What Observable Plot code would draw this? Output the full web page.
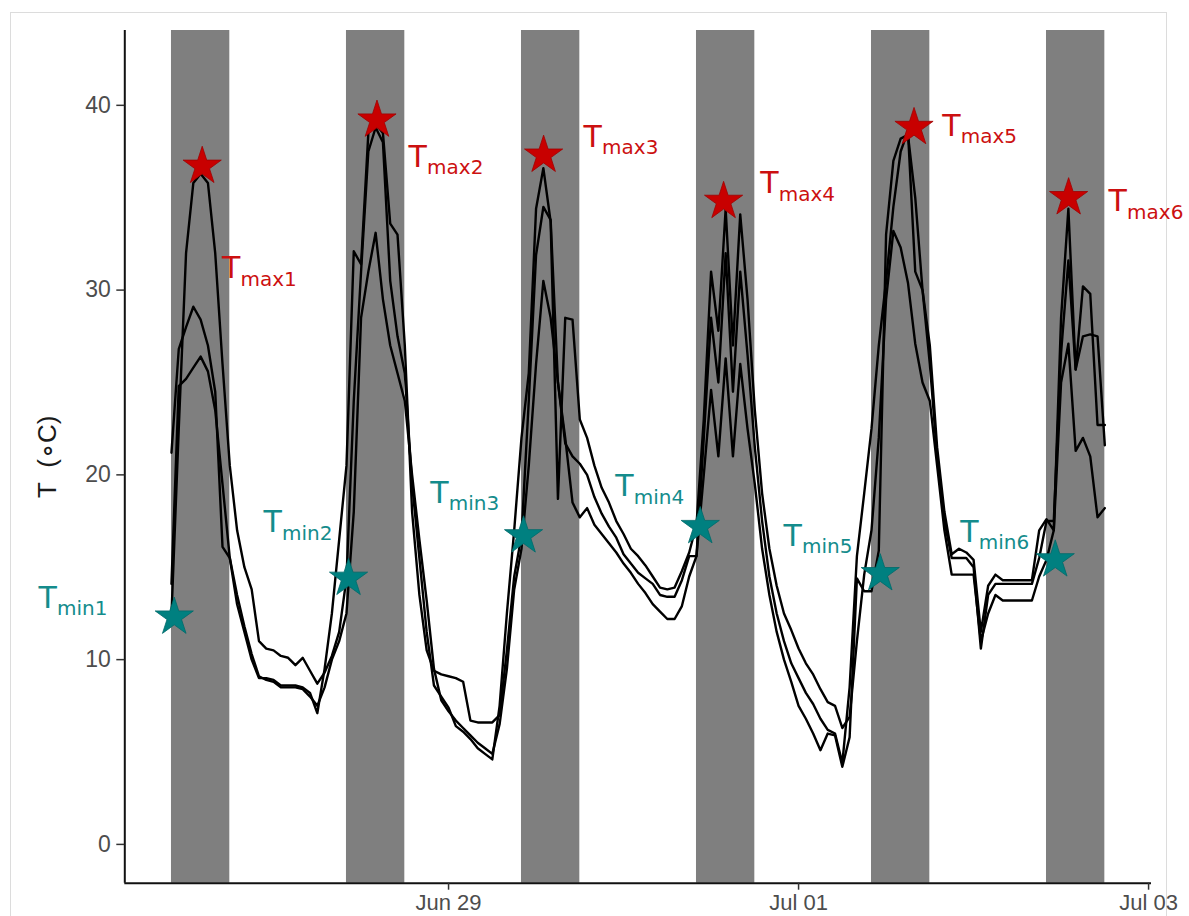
<!DOCTYPE html>
<html>
<head>
<meta charset="utf-8">
<script src="https://cdn.jsdelivr.net/npm/d3@7"></script>
<script src="https://cdn.jsdelivr.net/npm/@observablehq/plot@0.6"></script>
<style>
html, body { margin: 0; padding: 0; background: #ffffff; }
#wrap { position: relative; width: 1189px; height: 916px; overflow: hidden; }
#frame { position: absolute; left: 10px; top: 12px; width: 1157px; height: 980px; border: 1.5px solid #dcdcdc; box-sizing: border-box; }
#chart { position: absolute; left: 0; top: 0; }
</style>
</head>
<body>
<div id="wrap"><div id="frame"></div><div id="chart"></div></div>
<script>
// ---------- data ----------
const seriesStart = "2019-06-27T10:00:00Z"; // hourly readings from here
const sensorA = [
  12.4, 22.5, 32.0, 35.8, 36.3, 35.8, 32.0, 26.0, 20.5, 17.0, 15.0, 13.8, 11.0, 10.6, 10.5, 10.2, 10.1, 9.7, 10.1, 9.4, 8.7, 9.3, 10.2, 11.5,
  14.4, 24.0, 31.0, 37.5, 38.8, 38.0, 30.5, 27.5, 25.5, 19.5, 15.5, 11.5, 8.6, 8.0, 7.4, 6.4, 6.1, 5.7, 5.2, 4.9, 4.6, 7.5, 12.5, 17.0,
  22.0, 25.5, 34.4, 36.6, 33.7, 18.7, 28.5, 28.4, 23.0, 22.0, 20.5, 19.3, 18.5, 17.5, 16.8, 16.0, 15.6, 15.1, 14.5, 13.9, 13.8, 13.9, 14.8, 15.8,
  17.3, 23.0, 31.0, 27.8, 34.4, 27.0, 34.1, 29.5, 23.5, 19.0, 16.0, 14.0, 12.5, 11.6, 10.6, 9.8, 9.2, 8.4, 7.7, 7.5, 6.3, 6.9, 11.0, 14.6,
  17.0, 22.0, 29.5, 33.2, 32.3, 30.4, 27.1, 25.0, 24.0, 20.5, 17.0, 14.6, 14.6, 14.6, 14.6, 11.0, 12.5, 13.5, 13.2, 13.2, 13.2, 13.2, 13.2, 14.5,
  15.4, 17.0, 25.0, 27.1, 21.3, 22.0, 21.0, 17.7, 18.2
];
const sensorB = [
  21.2, 26.8, 28.0, 29.1, 28.4, 27.0, 24.5, 16.1, 15.5, 13.0, 11.5, 10.0, 9.0, 9.0, 8.9, 8.6, 8.6, 8.6, 8.5, 8.2, 7.1, 9.5, 12.5, 16.5,
  20.5, 32.1, 31.4, 38.5, 39.0, 38.5, 33.6, 33.0, 27.0, 18.0, 13.5, 10.5, 9.4, 9.2, 9.1, 9.0, 8.8, 6.7, 6.6, 6.6, 6.6, 7.0, 10.5, 14.5,
  16.7, 24.0, 31.9, 34.5, 33.8, 25.0, 21.7, 21.0, 20.6, 20.0, 18.8, 17.9, 17.2, 16.6, 15.7, 15.2, 14.7, 14.4, 14.1, 13.5, 13.4, 13.4, 14.3, 15.6,
  15.6, 22.0, 28.5, 25.0, 32.0, 24.5, 31.0, 26.5, 21.5, 17.5, 14.5, 12.5, 11.0, 9.8, 9.0, 8.2, 7.6, 6.8, 6.2, 6.0, 4.4, 8.5, 15.6, 19.0,
  22.5, 27.0, 30.5, 34.5, 37.5, 38.6, 31.0, 30.0, 27.0, 21.5, 18.0, 15.7, 16.0, 15.8, 15.4, 11.5, 14.0, 14.6, 14.3, 14.3, 14.3, 14.3, 14.3, 17.0,
  17.6, 17.0, 28.5, 34.4, 25.7, 30.2, 29.8, 22.7, 22.7
];
const sensorC = [
  14.1, 24.8, 25.2, 25.8, 26.4, 25.6, 23.5, 19.5, 15.5, 13.5, 11.8, 10.3, 9.1, 8.9, 8.8, 8.5, 8.5, 8.5, 8.4, 8.0, 7.5, 8.5, 10.0, 11.0,
  12.5, 18.0, 28.5, 31.0, 33.1, 29.5, 27.0, 25.5, 24.0, 20.0, 16.5, 13.2, 9.5, 7.8, 7.2, 6.7, 6.3, 5.9, 5.5, 5.2, 4.9, 6.5, 9.5, 13.8,
  16.0, 20.5, 26.0, 30.5, 28.5, 25.0, 22.0, 18.5, 17.7, 18.2, 17.3, 16.8, 16.3, 15.8, 15.2, 14.7, 14.1, 13.6, 13.0, 12.6, 12.2, 12.2, 12.9, 14.5,
  15.6, 20.0, 24.6, 21.0, 26.3, 21.0, 26.0, 22.5, 19.5, 16.0, 13.5, 11.5, 10.0, 8.8, 7.5, 6.8, 6.0, 5.1, 6.0, 5.9, 4.2, 5.8, 14.4, 13.7,
  13.7, 15.9, 33.0, 37.0, 38.2, 38.4, 35.0, 30.0, 26.0, 21.0, 17.5, 15.5, 15.5, 15.5, 15.0, 10.6, 13.5, 14.1, 14.1, 14.1, 14.1, 14.1, 14.1, 15.5,
  17.5, 17.5, 26.6, 31.6, 25.7, 27.5, 27.6, 27.5, 21.6
];
const bandStarts = ["2019-06-27T10:00:00Z", "2019-06-28T10:00:00Z", "2019-06-29T10:00:00Z", "2019-06-30T10:00:00Z", "2019-07-01T10:00:00Z", "2019-07-02T10:00:00Z"];
const bandEnds   = ["2019-06-27T18:00:00Z", "2019-06-28T18:00:00Z", "2019-06-29T18:00:00Z", "2019-06-30T18:00:00Z", "2019-07-01T18:00:00Z", "2019-07-02T18:00:00Z"];
const tmaxTimes  = ["2019-06-27T14:13:00Z", "2019-06-28T14:11:00Z", "2019-06-29T13:02:00Z", "2019-06-30T13:43:00Z", "2019-07-01T15:50:00Z", "2019-07-02T13:02:00Z"];
const tmaxValues = [36.7, 39.2, 37.3, 34.8, 38.8, 35.0];
const tmaxNames  = ["max1", "max2", "max3", "max4", "max5", "max6"];
const tminTimes  = ["2019-06-27T10:23:00Z", "2019-06-28T10:17:00Z", "2019-06-29T10:17:00Z", "2019-06-30T10:31:00Z", "2019-07-01T11:12:00Z", "2019-07-02T11:12:00Z"];
const tminValues = [12.3, 14.4, 16.7, 17.2, 14.65, 15.4];
const tminNames  = ["min1", "min2", "min3", "min4", "min5", "min6"];
const xTicks = ["2019-06-29T00:00:00Z", "2019-07-01T00:00:00Z", "2019-07-03T00:00:00Z"];
const yTicks = [0, 10, 20, 30, 40];
const xDomain = ["2019-06-27T03:36:00Z", "2019-07-03T00:24:00Z"];
const yDomain = [-2.1, 44.05];
const yTitle = "T\u00a0\u00a0(\u2218C)";

// ---------- layout (label placement offsets in px, like ggrepel output) ----------
const maxLabelOffsets = [[19.7, 112], [31.6, 46.7], [40, -8.7], [36.7, -8], [28.2, 8], [40, 13.7]];
const minLabelOffsets = [[-135.7, -9.3], [-85, -46.3], [-93.3, -33.3], [-85, -30.3], [-96.7, -28], [-95, -18.3]];

// ---------- build tables ----------
const t0 = Date.parse(seriesStart);
const lineData = [["A", sensorA], ["B", sensorB], ["C", sensorC]].flatMap(([name, vals]) =>
  vals.map((v, i) => ({sensor: name, time: new Date(t0 + i * 3600e3), temp: v})));
const bands = bandStarts.map((s, i) => ({start: new Date(s), end: new Date(bandEnds[i])}));
const tmax = tmaxTimes.map((t, i) => ({time: new Date(t), value: tmaxValues[i], name: tmaxNames[i]}));
const tmin = tminTimes.map((t, i) => ({time: new Date(t), value: tminValues[i], name: tminNames[i]}));
const xDom = xDomain.map(d => new Date(d));

const RED = "#c80000", RED_TXT = "#cc1010", TEAL = "#008080", TEAL_TXT = "#148c8c";

function labelMarks(arr, offsets, color) {
  return arr.flatMap((d, i) => [
    Plot.text([d], {x: "time", y: "value", text: () => "T", dx: offsets[i][0], dy: offsets[i][1],
      fontSize: 30, textAnchor: "start", lineAnchor: "bottom", fill: color, fontFamily: "DejaVu Sans"}),
    Plot.text([d], {x: "time", y: "value", text: "name", dx: offsets[i][0] + 18.5, dy: offsets[i][1] + 7.5,
      fontSize: 20, textAnchor: "start", lineAnchor: "bottom", fill: color, fontFamily: "DejaVu Sans"})
  ]);
}

const chart = Plot.plot({
  width: 1189,
  height: 916,
  marginTop: 30,
  marginBottom: 33.3,
  marginLeft: 124.3,
  marginRight: 38,
  style: {fontFamily: "'Liberation Sans', Arial, sans-serif", background: "transparent", overflow: "visible"},
  x: {type: "utc", domain: xDom},
  y: {domain: yDomain},
  marks: [
    Plot.rect(bands, {x1: "start", x2: "end", y1: yDomain[0], y2: yDomain[1], fill: "#7f7f7f"}),
    Plot.line(lineData, {x: "time", y: "temp", z: "sensor", stroke: "#000", strokeWidth: 2.4, strokeLinejoin: "round"}),
    Plot.ruleY([yDomain[0]], {stroke: "#111", strokeWidth: 2}),
    Plot.ruleX([xDom[0]], {stroke: "#111", strokeWidth: 2}),
    Plot.axisX({ticks: xTicks.map(d => new Date(d)), tickFormat: d3.utcFormat("%b %d"), tickSize: 7, tickPadding: 4,
      fontSize: 22, fill: "#4d4d4d", stroke: "#333", strokeWidth: 1.5, label: null}),
    Plot.axisY({ticks: yTicks, tickSize: 8, tickPadding: 6, fontSize: 23, fill: "#4d4d4d", stroke: "#333", strokeWidth: 1.5, label: null}),
    Plot.dot(tmax, {x: "time", y: "value", symbol: "star", r: 12, fill: RED, stroke: "#a00000", strokeWidth: 0.8}),
    Plot.dot(tmin, {x: "time", y: "value", symbol: "star", r: 12, fill: TEAL, stroke: "#006a6a", strokeWidth: 0.8}),
    ...labelMarks(tmax, maxLabelOffsets, RED_TXT),
    ...labelMarks(tmin, minLabelOffsets, TEAL_TXT),
    Plot.text([yTitle], {frameAnchor: "left", dx: -77, rotate: -90, fontSize: 26, fill: "#1a1a1a", textAnchor: "middle", lineAnchor: "middle"})
  ]
});
document.getElementById("chart").appendChild(chart);
</script>
</body>
</html>
